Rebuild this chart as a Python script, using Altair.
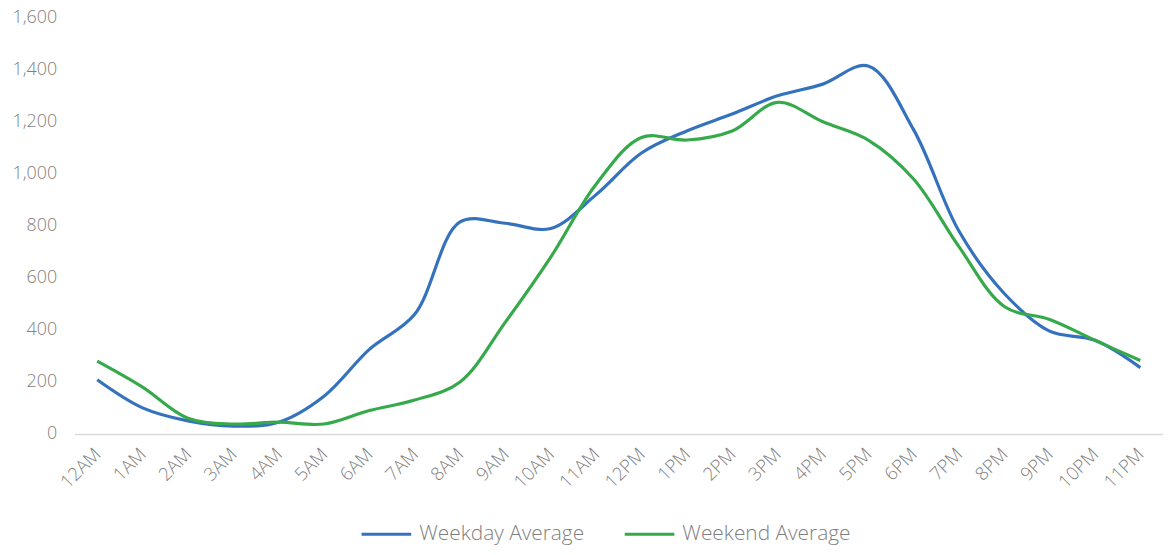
import altair as alt
import pandas as pd

hours = ["12AM", "1AM", "2AM", "3AM", "4AM", "5AM", "6AM", "7AM", "8AM", "9AM", "10AM", "11AM",
         "12PM", "1PM", "2PM", "3PM", "4PM", "5PM", "6PM", "7PM", "8PM", "9PM", "10PM", "11PM"]
weekday = [208, 100, 50, 30, 45, 145, 325, 460, 815, 810, 790, 920,
           1080, 1165, 1230, 1300, 1345, 1415, 1170, 780, 540, 395, 360, 255]
weekend = [280, 180, 60, 38, 45, 38, 90, 130, 200, 430, 680, 960,
           1140, 1130, 1165, 1275, 1200, 1130, 980, 720, 490, 440, 360, 282]
series_names = ["Weekday Average", "Weekend Average"]
colors = ["#3572BE", "#36A94A"]

rows = []
for i, h in enumerate(hours):
    rows.append({"hour": h, "series": series_names[0], "value": weekday[i], "o": i})
    rows.append({"hour": h, "series": series_names[1], "value": weekend[i], "o": i})
df = pd.DataFrame(rows)

FONT = "Open Sans"
GREY = "#7F7F7F"

chart = alt.Chart(df).mark_line(interpolate="catmull-rom", strokeWidth=3.2).encode(
    x=alt.X("hour:N", sort=hours, title=None,
            scale=alt.Scale(paddingInner=0, paddingOuter=0.5),
            axis=alt.Axis(labelAngle=-45, labelAlign="right", labelBaseline="middle",
                          labelPadding=17, ticks=False, domainColor="#D9D9D9",
                          domainWidth=1.5, labelColor=GREY, labelFont=FONT,
                          labelFontSize=18.5, labelFontWeight=300, grid=False)),
    y=alt.Y("value:Q", title=None,
            scale=alt.Scale(domain=[0, 1600], nice=False),
            axis=alt.Axis(values=[0, 200, 400, 600, 800, 1000, 1200, 1400, 1600],
                          format=",.0f", domain=False, ticks=False, grid=False,
                          labelPadding=18, labelColor=GREY, labelFont=FONT,
                          labelFontSize=18, labelFontWeight=300)),
    color=alt.Color("series:N", sort=series_names,
                    scale=alt.Scale(domain=series_names, range=colors),
                    legend=alt.Legend(title=None, orient="none", direction="horizontal",
                                      legendX=287, legendY=493,
                                      symbolType="stroke", symbolSize=2500,
                                      symbolStrokeWidth=3.2, labelFont=FONT,
                                      labelFontSize=21, labelFontWeight=300,
                                      labelColor=GREY, columnPadding=33,
                                      labelOffset=6, labelLimit=400)),
    order="o:Q",
).properties(
    width=1096, height=419,
    autosize=alt.AutoSizeParams(type="none"),
    padding={"left": 67, "top": 8, "right": 0, "bottom": 112},
).configure_view(stroke=None)

chart.save("out.html", embed_options={"renderer": "svg", "actions": False})
